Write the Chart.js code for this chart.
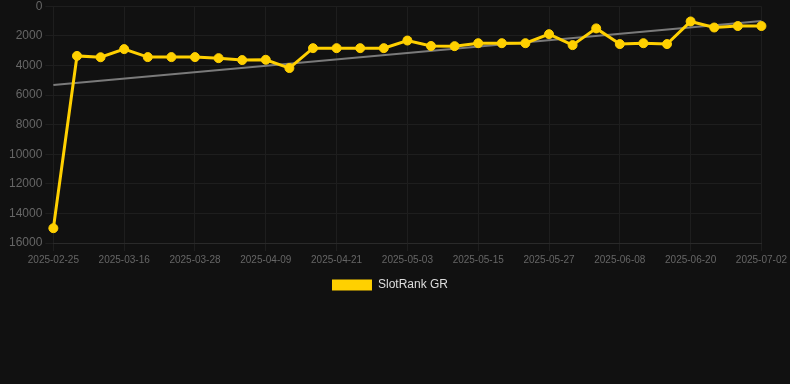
<!DOCTYPE html>
<html>
<head>
<meta charset="utf-8">
<script src="https://cdn.jsdelivr.net/npm/chart.js@4"></script>
<style>
  html, body { margin: 0; padding: 0; background: #111111; overflow: hidden; }
  #wrap { width: 790px; height: 305px; position: relative; margin-top: -4px; }
</style>
</head>
<body>
<div id="wrap"><canvas id="chart"></canvas></div>
<script>
const dates = [
  '2025-02-25', '2025-03-08', '2025-03-12', '2025-03-16', '2025-03-20', '2025-03-24',
  '2025-03-28', '2025-04-01', '2025-04-05', '2025-04-09', '2025-04-13', '2025-04-17',
  '2025-04-21', '2025-04-25', '2025-04-29', '2025-05-03', '2025-05-07', '2025-05-11',
  '2025-05-15', '2025-05-19', '2025-05-23', '2025-05-27', '2025-05-31', '2025-06-04',
  '2025-06-08', '2025-06-12', '2025-06-16', '2025-06-20', '2025-06-24', '2025-06-28',
  '2025-07-02'
];

const rank = [
  15000, 3360, 3450, 2900, 3440, 3440, 3440, 3510, 3640, 3620, 4180,
  2835, 2835, 2835, 2835, 2320, 2690, 2700, 2500, 2500, 2500,
  1890, 2630, 1500, 2560, 2500, 2560, 1030, 1440, 1340, 1340
];

// trend line: only its two ends
const trend = [5320].concat(new Array(29).fill(null), [1000]);

const yTicks = [0, 2000, 4000, 6000, 8000, 10000, 12000, 14000, 16000];

Chart.defaults.font.family = "'Liberation Sans', Arial, Helvetica, sans-serif";

new Chart(document.getElementById('chart'), {
  type: 'line',
  data: {
    labels: dates,
    datasets: [
      {
        label: 'SlotRank GR',
        data: rank,
        borderColor: '#ffd000',
        backgroundColor: '#ffd000',
        borderWidth: 3,
        pointRadius: 4.5,
        pointBorderWidth: 1,
        pointHoverRadius: 5,
        tension: 0
      },
      {
        label: 'trend',
        data: trend,
        spanGaps: true,
        borderColor: '#7a7a7a',
        borderWidth: 2,
        pointRadius: 0,
        fill: false
      }
    ]
  },
  options: {
    responsive: true,
    maintainAspectRatio: false,
    animation: false,
    layout: { padding: { left: 6, right: 16, top: 0, bottom: 0 } },
    scales: {
      x: {
        grid: { color: '#1e1e1e' },
        border: { color: '#2a2a2a' },
        ticks: {
          autoSkip: false,
          maxRotation: 0,
          color: '#666666',
          font: { size: 10 },
          callback: function (v, i) { return i % 3 === 0 ? this.getLabelForValue(v) : null; }
        }
      },
      y: {
        reverse: true,
        min: 0,
        max: 16000,
        afterBuildTicks: axis => { axis.ticks = yTicks.map(v => ({ value: v })); },
        grid: { color: '#1e1e1e' },
        border: { display: false },
        ticks: { color: '#666666', font: { size: 12 }, callback: v => String(v) }
      }
    },
    plugins: {
      legend: {
        position: 'bottom',
        labels: {
          color: '#dddddd',
          font: { size: 12 },
          boxWidth: 40,
          boxHeight: 11,
          filter: item => item.datasetIndex === 0,
          generateLabels: chart => Chart.defaults.plugins.legend.labels.generateLabels(chart)
            .map(l => Object.assign(l, { lineWidth: 0 }))
        }
      },
      tooltip: { enabled: false }
    }
  }
});
</script>
</body>
</html>
